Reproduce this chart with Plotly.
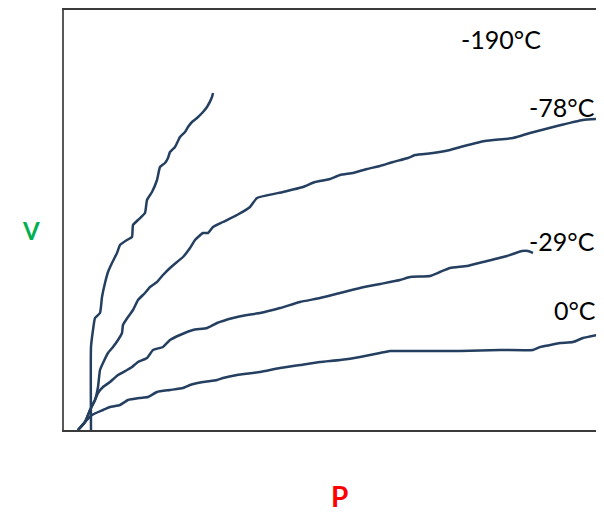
import plotly.graph_objects as go

# Adsorption isotherms: V vs P at various temperatures (arbitrary units)
p_190 = [27, 27, 29, 31, 36, 38, 41, 44, 48, 53, 56, 63, 68, 69, 74, 81, 83, 88, 93, 96, 101, 104, 106, 111, 116, 121, 124, 128, 133, 139, 143, 148, 149]
v_190 = [0, 83, 100, 112, 117, 133, 147, 158, 167, 177, 185, 190, 193, 205, 210, 217, 230, 238, 250, 263, 267, 272, 278, 283, 293, 298, 303, 308, 312, 318, 323, 333, 337]

p_78 = [14, 21, 26, 31, 34, 36, 39, 44, 49, 54, 58, 59, 64, 69, 74, 81, 86, 93, 99, 106, 113, 119, 126, 131, 139, 144, 149, 159, 173, 186, 193, 219, 239, 251, 266, 276, 289, 303, 316, 329, 344, 351, 369, 386, 393, 421, 449, 466, 493, 519, 533]
v_78 = [0, 8, 20, 30, 43, 60, 67, 77, 83, 90, 97, 105, 113, 120, 130, 137, 143, 148, 155, 162, 168, 173, 182, 190, 197, 197, 203, 208, 215, 223, 232, 238, 243, 248, 251, 255, 257, 261, 264, 268, 272, 275, 277, 280, 282, 289, 292, 297, 304, 310, 311]

p_29 = [14, 21, 26, 31, 34, 39, 46, 54, 63, 68, 74, 83, 89, 99, 106, 116, 129, 143, 153, 169, 183, 196, 216, 236, 256, 276, 296, 316, 336, 346, 366, 376, 386, 403, 419, 443, 458, 464, 469]
v_29 = [0, 8, 20, 30, 37, 43, 48, 55, 60, 63, 68, 72, 80, 83, 90, 95, 100, 102, 107, 112, 115, 117, 122, 128, 132, 137, 142, 146, 150, 153, 154, 158, 162, 164, 168, 174, 179, 179, 177]

p_0 = [14, 21, 28, 39, 46, 56, 64, 76, 84, 93, 106, 119, 126, 139, 153, 159, 173, 196, 216, 236, 256, 276, 296, 316, 326, 356, 396, 436, 469, 476, 486, 496, 509, 519, 533]
v_0 = [0, 8, 15, 20, 23, 25, 30, 32, 33, 38, 40, 42, 45, 48, 50, 52, 55, 58, 62, 65, 68, 70, 73, 77, 79, 79, 79, 80, 80, 83, 85, 87, 88, 92, 95]

labels = ["-190°C", "-78°C", "-29°C", "0°C"]
label_p = [437, 498, 498, 511]
label_v = [391, 323, 189, 120]

LINE = "#243F60"
FONT = "Lato"

fig = go.Figure()
for p, v in [(p_190, v_190), (p_78, v_78), (p_29, v_29), (p_0, v_0)]:
    fig.add_trace(go.Scatter(x=p, y=v, mode="lines",
                             line=dict(color=LINE, width=2.5, shape="spline", smoothing=0.4),
                             hoverinfo="skip", showlegend=False))

for t, x, y in zip(labels, label_p, label_v):
    fig.add_annotation(x=x, y=y, xref="x", yref="y", text=t, showarrow=False,
                       font=dict(family=FONT, size=25, color="black"))

fig.add_annotation(x=-0.081, y=0.476, xref="paper", yref="paper", text="<b>V</b>",
                   showarrow=False, font=dict(family=FONT, size=24, color="#00B050"))
fig.add_annotation(x=0.511, y=-0.158, xref="paper", yref="paper", text="<b>P</b>",
                   yanchor="middle", showarrow=False, borderpad=0,
                   font=dict(family=FONT, size=28, color="#FF0000"))

fig.update_xaxes(range=[0, 540], showgrid=False, zeroline=False, showticklabels=False,
                 ticks="", showline=True, linecolor="#3a3a3a", linewidth=2, mirror=True)
fig.update_yaxes(range=[0, 420], showgrid=False, zeroline=False, showticklabels=False,
                 ticks="", showline=True, linecolor="#595959", linewidth=2)

fig.update_layout(width=596, height=508, margin=dict(l=56, r=0, t=2, b=86),
                  plot_bgcolor="white", paper_bgcolor="white")

fig.write_html("out.html")
